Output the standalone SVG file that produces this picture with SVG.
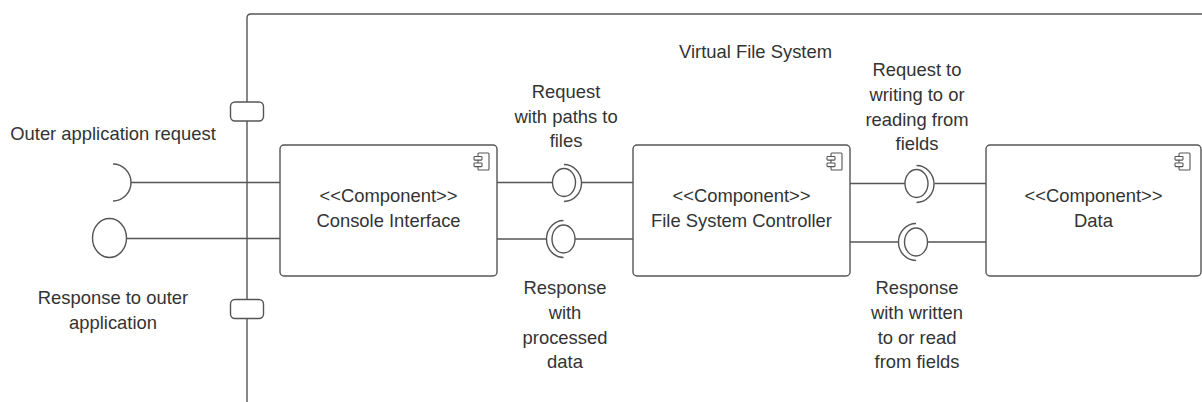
<svg xmlns="http://www.w3.org/2000/svg" width="1202" height="402" viewBox="0 0 1202 402">
  <defs>
    <style>
      .ln { fill: none; stroke: #555555; stroke-width: 1.4; }
      .box { fill: #ffffff; stroke: #555555; stroke-width: 1.4; }
      .txt { font-family: "Liberation Sans", Arial, sans-serif; font-size: 18.4px; fill: #333333; text-anchor: middle; }
      .ico { fill: #ffffff; stroke: #555555; stroke-width: 1.1; }
    </style>
    <!-- UML component glyph, anchored at its top-right corner -->
    <g id="compIcon">
      <rect class="ico" x="-11" y="0" width="11" height="17" rx="1"/>
      <rect class="ico" x="-15" y="3.5" width="8" height="3.6" rx="0.8"/>
      <rect class="ico" x="-15" y="10" width="8" height="3.6" rx="0.8"/>
    </g>
  </defs>

  <rect x="0" y="0" width="1202" height="402" fill="#ffffff"/>

  <!-- system boundary -->
  <g id="system-boundary">
    <path class="ln" d="M247,402 V18 Q247,14 251,14 H1210"/>
    <text class="txt" x="755.5" y="58">Virtual File System</text>
    <rect class="box" x="230.5" y="102" width="33" height="19" rx="4.5"/>
    <rect class="box" x="230.5" y="299.5" width="33" height="19" rx="4.5"/>
  </g>

  <!-- connectors -->
  <g id="connectors">
    <line class="ln" x1="131" y1="182.5" x2="280" y2="182.5"/>
    <line class="ln" x1="126.5" y1="238.5" x2="280" y2="238.5"/>
    <line class="ln" x1="497" y1="182.5" x2="552.5" y2="182.5"/>
    <line class="ln" x1="582" y1="182.5" x2="633" y2="182.5"/>
    <line class="ln" x1="497" y1="239" x2="546.5" y2="239"/>
    <line class="ln" x1="575" y1="239" x2="633" y2="239"/>
    <line class="ln" x1="850" y1="183.5" x2="905" y2="183.5"/>
    <line class="ln" x1="934.5" y1="183.5" x2="986" y2="183.5"/>
    <line class="ln" x1="850" y1="242" x2="898" y2="242"/>
    <line class="ln" x1="928" y1="242" x2="986" y2="242"/>
  </g>

  <!-- external interfaces -->
  <g id="outer-request">
    <path class="ln" d="M113,164 A18,18.5 0 0 1 113,201"/>
    <text class="txt" x="113" y="140">Outer application request</text>
  </g>
  <g id="outer-response">
    <ellipse class="ln" cx="109.5" cy="238" rx="17" ry="19.5"/>
    <text class="txt" x="113" y="304">Response to outer</text>
    <text class="txt" x="113" y="329">application</text>
  </g>

  <!-- Console Interface <-> File System Controller -->
  <g id="request-paths">
    <ellipse class="ln" cx="564" cy="182.5" rx="11.5" ry="14"/>
    <path class="ln" d="M564,164.5 A17.5,18.5 0 0 1 564,201.5"/>
    <text class="txt" x="566" y="98">Request</text>
    <text class="txt" x="566" y="122.5">with paths to</text>
    <text class="txt" x="566" y="147">files</text>
  </g>
  <g id="response-processed">
    <ellipse class="ln" cx="563.5" cy="239" rx="11.5" ry="14"/>
    <path class="ln" d="M563.5,220.5 A17,18.5 0 0 0 563.5,257.5"/>
    <text class="txt" x="565" y="294">Response</text>
    <text class="txt" x="565" y="318.5">with</text>
    <text class="txt" x="565" y="343.5">processed</text>
    <text class="txt" x="565" y="368">data</text>
  </g>

  <!-- File System Controller <-> Data -->
  <g id="request-fields">
    <ellipse class="ln" cx="916.5" cy="183.5" rx="11.5" ry="14"/>
    <path class="ln" d="M916.5,165.5 A17.5,18.5 0 0 1 916.5,202.5"/>
    <text class="txt" x="917" y="76">Request to</text>
    <text class="txt" x="917" y="100.5">writing to or</text>
    <text class="txt" x="917" y="125.5">reading from</text>
    <text class="txt" x="917" y="150">fields</text>
  </g>
  <g id="response-fields">
    <ellipse class="ln" cx="916" cy="242" rx="11.5" ry="14"/>
    <path class="ln" d="M916,223.5 A17.5,18.5 0 0 0 916,260.5"/>
    <text class="txt" x="917" y="294">Response</text>
    <text class="txt" x="917" y="318.5">with written</text>
    <text class="txt" x="917" y="343.5">to or read</text>
    <text class="txt" x="917" y="368">from fields</text>
  </g>

  <!-- components -->
  <g id="console-interface">
    <rect class="box" x="280" y="145" width="217" height="131" rx="4"/>
    <use href="#compIcon" x="489" y="153"/>
    <text class="txt" x="388.5" y="202">&lt;&lt;Component&gt;&gt;</text>
    <text class="txt" x="388.5" y="227">Console Interface</text>
  </g>
  <g id="file-system-controller">
    <rect class="box" x="633" y="145" width="217" height="131" rx="4"/>
    <use href="#compIcon" x="842" y="153"/>
    <text class="txt" x="741.5" y="202">&lt;&lt;Component&gt;&gt;</text>
    <text class="txt" x="741.5" y="227">File System Controller</text>
  </g>
  <g id="data">
    <rect class="box" x="986" y="145" width="215" height="131" rx="4"/>
    <use href="#compIcon" x="1190" y="153"/>
    <text class="txt" x="1093.5" y="202">&lt;&lt;Component&gt;&gt;</text>
    <text class="txt" x="1093.5" y="227">Data</text>
  </g>
</svg>
